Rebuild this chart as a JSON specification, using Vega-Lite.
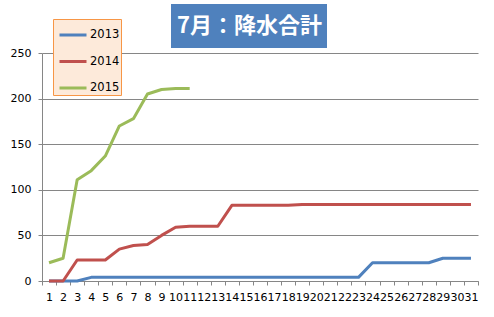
{
  "$schema": "https://vega.github.io/schema/vega-lite/v6.json",
  "width": 436,
  "height": 228,
  "autosize": "none",
  "padding": {"left": 42, "top": 53, "right": 16, "bottom": 36},
  "background": "white",
  "config": {
    "view": {"stroke": null},
    "font": "DejaVu Sans",
    "axis": {"labelFont": "DejaVu Sans", "labelColor": "#000000", "labelFontSize": 11}
  },
  "layer": [
    {
      "data": {
        "values": [
          {"day": 1, "year": "2013", "value": 0}, {"day": 2, "year": "2013", "value": 0}, {"day": 3, "year": "2013", "value": 0},
          {"day": 4, "year": "2013", "value": 4}, {"day": 5, "year": "2013", "value": 4}, {"day": 6, "year": "2013", "value": 4},
          {"day": 7, "year": "2013", "value": 4}, {"day": 8, "year": "2013", "value": 4}, {"day": 9, "year": "2013", "value": 4},
          {"day": 10, "year": "2013", "value": 4}, {"day": 11, "year": "2013", "value": 4}, {"day": 12, "year": "2013", "value": 4},
          {"day": 13, "year": "2013", "value": 4}, {"day": 14, "year": "2013", "value": 4}, {"day": 15, "year": "2013", "value": 4},
          {"day": 16, "year": "2013", "value": 4}, {"day": 17, "year": "2013", "value": 4}, {"day": 18, "year": "2013", "value": 4},
          {"day": 19, "year": "2013", "value": 4}, {"day": 20, "year": "2013", "value": 4}, {"day": 21, "year": "2013", "value": 4},
          {"day": 22, "year": "2013", "value": 4}, {"day": 23, "year": "2013", "value": 4}, {"day": 24, "year": "2013", "value": 20},
          {"day": 25, "year": "2013", "value": 20}, {"day": 26, "year": "2013", "value": 20}, {"day": 27, "year": "2013", "value": 20},
          {"day": 28, "year": "2013", "value": 20}, {"day": 29, "year": "2013", "value": 25}, {"day": 30, "year": "2013", "value": 25},
          {"day": 31, "year": "2013", "value": 25},
          {"day": 1, "year": "2014", "value": 0}, {"day": 2, "year": "2014", "value": 0}, {"day": 3, "year": "2014", "value": 23},
          {"day": 4, "year": "2014", "value": 23}, {"day": 5, "year": "2014", "value": 23}, {"day": 6, "year": "2014", "value": 35},
          {"day": 7, "year": "2014", "value": 39}, {"day": 8, "year": "2014", "value": 40}, {"day": 9, "year": "2014", "value": 50},
          {"day": 10, "year": "2014", "value": 59}, {"day": 11, "year": "2014", "value": 60}, {"day": 12, "year": "2014", "value": 60},
          {"day": 13, "year": "2014", "value": 60}, {"day": 14, "year": "2014", "value": 83}, {"day": 15, "year": "2014", "value": 83},
          {"day": 16, "year": "2014", "value": 83}, {"day": 17, "year": "2014", "value": 83}, {"day": 18, "year": "2014", "value": 83},
          {"day": 19, "year": "2014", "value": 84}, {"day": 20, "year": "2014", "value": 84}, {"day": 21, "year": "2014", "value": 84},
          {"day": 22, "year": "2014", "value": 84}, {"day": 23, "year": "2014", "value": 84}, {"day": 24, "year": "2014", "value": 84},
          {"day": 25, "year": "2014", "value": 84}, {"day": 26, "year": "2014", "value": 84}, {"day": 27, "year": "2014", "value": 84},
          {"day": 28, "year": "2014", "value": 84}, {"day": 29, "year": "2014", "value": 84}, {"day": 30, "year": "2014", "value": 84},
          {"day": 31, "year": "2014", "value": 84},
          {"day": 1, "year": "2015", "value": 20}, {"day": 2, "year": "2015", "value": 25}, {"day": 3, "year": "2015", "value": 111},
          {"day": 4, "year": "2015", "value": 121}, {"day": 5, "year": "2015", "value": 137}, {"day": 6, "year": "2015", "value": 170},
          {"day": 7, "year": "2015", "value": 178}, {"day": 8, "year": "2015", "value": 205}, {"day": 9, "year": "2015", "value": 210},
          {"day": 10, "year": "2015", "value": 211}, {"day": 11, "year": "2015", "value": 211}
        ]
      },
      "mark": {"type": "line", "strokeWidth": 3, "strokeJoin": "round"},
      "encoding": {
        "x": {
          "field": "day", "type": "ordinal", "sort": "ascending",
          "scale": {"type": "band", "paddingInner": 0, "paddingOuter": 0},
          "axis": {
            "title": null, "labelAngle": 0, "labelOverlap": false, "tickBand": "extent",
            "tickSize": 4, "tickColor": "#868686", "domainColor": "#868686", "labelPadding": 6,
            "grid": false
          }
        },
        "y": {
          "field": "value", "type": "quantitative",
          "scale": {"domain": [0, 250], "nice": false},
          "axis": {
            "title": null, "values": [0, 50, 100, 150, 200, 250], "tickSize": 4,
            "tickColor": "#868686", "domainColor": "#868686", "gridColor": "#868686",
            "gridOpacity": 1, "labelPadding": 7
          }
        },
        "color": {
          "field": "year", "type": "nominal",
          "scale": {"domain": ["2013", "2014", "2015"], "range": ["#4F81BD", "#C0504D", "#9BBB59"]},
          "legend": {
            "title": null, "orient": "none", "legendX": 11, "legendY": -34,
            "fillColor": "#FDEADA", "strokeColor": "#F79646",
            "padding": 1, "symbolType": "stroke", "symbolSize": 729, "symbolStrokeWidth": 3,
            "symbolOffset": 4, "rowPadding": 5.5, "labelOffset": 2,
            "labelFont": "DejaVu Sans", "labelFontSize": 11.5, "labelColor": "#000000"
          }
        }
      }
    },
    {
      "data": {"values": [{"t": "7月：降水合計"}]},
      "mark": {"type": "point", "opacity": 0},
      "encoding": {
        "shape": {
          "field": "t", "type": "nominal",
          "legend": {
            "title": null, "orient": "none", "legendX": 129, "legendY": -49,
            "fillColor": "#4F81BD", "padding": 5, "symbolSize": 0, "symbolOpacity": 0,
            "symbolStrokeWidth": 0, "symbolOffset": 0, "labelOffset": -21,
            "labelColor": "#FFFFFF", "labelFont": "Noto Sans CJK JP", "labelFontSize": 22,
            "labelFontWeight": "bold", "clipHeight": 34, "labelLimit": 300
          }
        }
      }
    }
  ]
}
